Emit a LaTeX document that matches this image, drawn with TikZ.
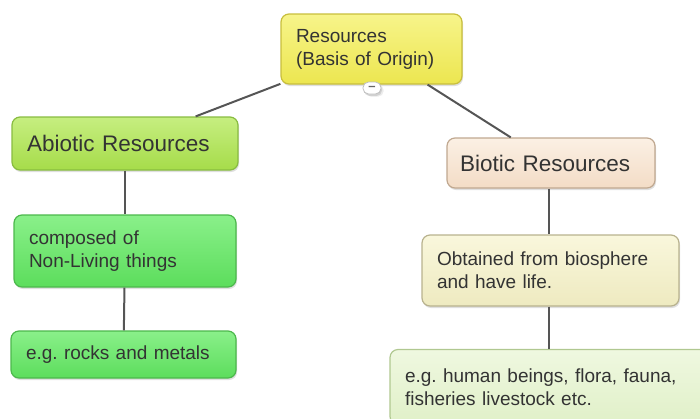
\documentclass[tikz,border=0pt]{standalone}
\usepackage{fontspec}
\setmainfont{Liberation Sans}
\usetikzlibrary{shadows}
\frenchspacing

\definecolor{linegray}{HTML}{555555}
\definecolor{txtgray}{HTML}{333333}
\definecolor{restop}{HTML}{F7F48A}
\definecolor{resbot}{HTML}{ECE650}
\definecolor{resline}{HTML}{C8BE3C}
\definecolor{abiotop}{HTML}{C6EE80}
\definecolor{abiobot}{HTML}{A6DC4A}
\definecolor{abioline}{HTML}{88BC40}
\definecolor{greentop}{HTML}{8AF08A}
\definecolor{greenbot}{HTML}{5CDD5C}
\definecolor{greenline}{HTML}{4CB84C}
\definecolor{biotop}{HTML}{FBF0E4}
\definecolor{biobot}{HTML}{F3DCC6}
\definecolor{bioline}{HTML}{C0A890}
\definecolor{obttop}{HTML}{F9F7DC}
\definecolor{obtbot}{HTML}{EEEAC0}
\definecolor{obtline}{HTML}{B8B28E}
\definecolor{lifetop}{HTML}{EFF8E0}
\definecolor{lifebot}{HTML}{E0F0C8}
\definecolor{lifeline}{HTML}{B0C890}

\begin{document}
\begin{tikzpicture}[x=1pt, y=-1pt]
			\tikzstyle{every node}=[align=left, inner xsep=15pt, inner ysep=0pt, rounded corners=8pt, line width=1.2pt, text=txtgray, drop shadow={opacity=0.25, shadow xshift=1pt, shadow yshift=-2pt}]
			\tikzstyle{small text}=[font=\fontsize{19}{23}\selectfont]
			\tikzstyle{big text}=[font=\fontsize{22.5}{26}\selectfont]
			\tikzstyle{yellowbox}=[draw=resline, top color=restop, bottom color=resbot]
			\tikzstyle{limebox}=[draw=abioline, top color=abiotop, bottom color=abiobot]
			\tikzstyle{greenbox}=[draw=greenline, top color=greentop, bottom color=greenbot]
			\tikzstyle{peachbox}=[draw=bioline, top color=biotop, bottom color=biobot]
			\tikzstyle{creambox}=[draw=obtline, top color=obttop, bottom color=obtbot]
			\tikzstyle{palebox}=[draw=lifeline, top color=lifetop, bottom color=lifebot]
			\useasboundingbox (0,0) rectangle (700,418);
			\clip (0,0) rectangle (700,418);

				\node[yellowbox, small text, text width=151pt, minimum height=70pt] (res) at (371.5, 49) {Resources\\(Basis of Origin)};
				\node[limebox, big text, text width=196pt, minimum height=53pt] (abio) at (125, 143.5) {Abiotic Resources};
				\node[peachbox, big text, text width=182pt, minimum height=50pt, inner xsep=13pt] (bio) at (551, 163) {Biotic Resources};
				\node[greenbox, small text, text width=192pt, minimum height=72pt] (comp) at (125, 251) {composed of\\Non-Living things};
				\node[greenbox, small text, text width=195pt, minimum height=47pt] (rocks) at (123.5, 354.5) {e.g. rocks and metals};
				\node[creambox, small text, text width=227pt, minimum height=71pt] (obt) at (550.5, 270.5) {Obtained from biosphere\\and have life.};
				\node[palebox, small text, text width=290pt, minimum height=75pt] (life) at (550, 387) {e.g. human beings, flora, fauna,\\fisheries livestock etc.};

				\draw[linegray, line width=2pt]  (res) -- (abio);
				\draw[linegray, line width=2pt]  (res) -- (bio);
				\draw[linegray, line width=2pt]  (abio) -- (comp);
				\draw[linegray, line width=2pt]  (comp) -- (rocks);
				\draw[linegray, line width=2pt]  (bio.south -| 549,0) -- (obt.north -| 549,0);
				\draw[linegray, line width=2pt]  (obt.south -| 549,0) -- (life.north -| 549,0);

				\node[draw=gray!50, fill=white, rounded corners=5.5pt, minimum width=18pt, minimum height=12pt, inner sep=0pt, line width=0.8pt, text=gray!80!black, font=\fontsize{13}{13}\selectfont\bfseries, drop shadow={opacity=0.15}] (fold) at (372, 88) {--};
			\end{tikzpicture}
\end{document}
